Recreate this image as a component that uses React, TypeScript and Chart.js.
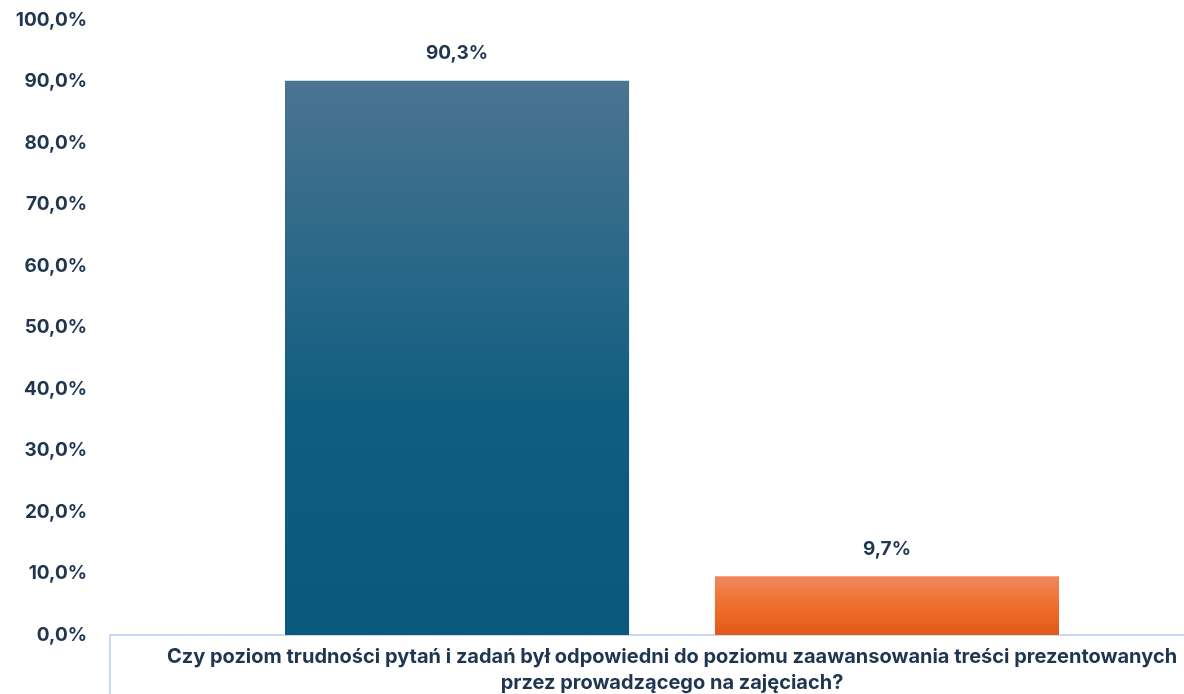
import React, { useEffect, useRef } from "react";
import { Chart, registerables } from "chart.js";

Chart.register(...registerables);

const categoryLines = [
  "Czy poziom trudności pytań i zadań był odpowiedni do poziomu zaawansowania treści prezentowanych",
  "przez prowadzącego na zajęciach?",
];
const seriesNames = ["Tak", "Nie"];
const seriesValues = [90.3, 9.7];
const seriesStops = [
  [
    [0, "#4b7491"],
    [0.6, "#0f5d80"],
    [1, "#0a587b"],
  ],
  [
    [0, "#ee8a5e"],
    [0.5, "#f06e2c"],
    [1, "#e05a19"],
  ],
];
const yMin = 0;
const yMax = 100;
const yStep = 10;

const TEXT = "#1f3550";
const AXIS = "#c6dbf0";
const FONT = "Inter";

const fmt = (v: number) => v.toFixed(1).replace(".", ",") + "%";

const dataLabels = {
  id: "dataLabels",
  afterDatasetsDraw(chart: any) {
    const ctx = chart.ctx;
    ctx.save();
    ctx.fillStyle = TEXT;
    ctx.font = `bold 19px ${FONT}`;
    ctx.textAlign = "center";
    ctx.textBaseline = "middle";
    chart.data.datasets.forEach((ds: any, i: number) => {
      const meta = chart.getDatasetMeta(i);
      meta.data.forEach((el: any, j: number) => {
        ctx.fillText(fmt(ds.data[j]), el.x, el.y - 26);
      });
    });
    ctx.restore();
  },
};

export default function App() {
  const ref = useRef<HTMLCanvasElement>(null);
  useEffect(() => {
    if (!ref.current) return;
    const chart = new Chart(ref.current, {
      type: "bar",
      data: {
        labels: [categoryLines],
        datasets: seriesNames.map((name, i) => ({
          label: name,
          data: [seriesValues[i]],
          backgroundColor: (c: any) => {
            const ch = c.chart;
            const area = ch.chartArea;
            if (!area) return seriesStops[i][0][1] as string;
            const top = ch.scales.y.getPixelForValue(seriesValues[i]);
            const g = ch.ctx.createLinearGradient(0, top, 0, area.bottom);
            seriesStops[i].forEach((s: any) => g.addColorStop(s[0], s[1]));
            return g;
          },
          borderColor: "rgba(255,255,255,0.55)",
          borderWidth: 1,
          categoryPercentage: 0.765,
          barPercentage: 0.805,
        })),
      },
      options: {
        responsive: false,
        maintainAspectRatio: false,
        animation: false,
        layout: { padding: { top: 0, right: 6, left: 0, bottom: 0 } },
        plugins: {
          legend: { display: false },
          tooltip: { enabled: false },
        },
        scales: {
          y: {
            min: yMin,
            max: yMax,
            ticks: {
              stepSize: yStep,
              padding: 23,
              color: TEXT,
              font: { family: FONT, size: 19, weight: "bold" },
              callback: (v: any) => fmt(Number(v)),
            },
            grid: { display: false, drawTicks: false },
            border: { display: false },
            afterFit: (s: any) => {
              s.width = 110;
              s.paddingTop = 20;
              s.paddingBottom = 0;
            },
          },
          x: {
            ticks: {
              padding: -51,
              color: TEXT,
              font: { family: FONT, size: 20, weight: "bold", lineHeight: "26px" },
              maxRotation: 0,
              autoSkip: false,
            },
            grid: {
              display: true,
              drawOnChartArea: false,
              drawTicks: true,
              tickLength: 60,
              color: AXIS,
              lineWidth: 2,
            },
            border: { display: true, color: AXIS, width: 2 },
            afterFit: (s: any) => {
              s.height = 59;
            },
          },
        },
      },
      plugins: [dataLabels],
    });
    return () => chart.destroy();
  }, []);
  return (
    <div
      style={{
        position: "fixed",
        left: 0,
        top: 0,
        width: 1184,
        height: 694,
        overflow: "hidden",
        background: "#fff",
      }}
    >
      <canvas ref={ref} width={1240} height={694} style={{ display: "block" }} />
    </div>
  );
}
